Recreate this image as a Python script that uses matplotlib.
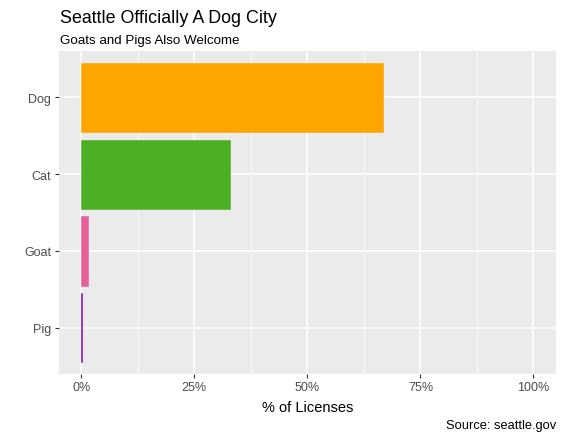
import matplotlib
matplotlib.use("Agg")
from matplotlib import pyplot as plt
from matplotlib.ticker import FuncFormatter, MultipleLocator
import numpy as np

# данные с картинки
species = ['Pig', 'Goat', 'Cat', 'Dog']
share = [0.2, 1.5, 32.9, 66.7]
colors = ['#8C00C8', '#E8609A', '#4DAF24', '#FFA500']
xticks = [0, 25, 50, 75, 100]

plt.rcParams['font.family'] = ['Liberation Sans', 'DejaVu Sans']

fig = plt.figure(figsize=(5.64, 4.39), dpi=100)
ax = fig.add_axes([0.104, 0.146, 0.882, 0.735])
ax.set_facecolor('#EBEBEB')

y = np.arange(1, len(species) + 1)
ax.barh(y, share, height=0.9, color=colors, edgecolor=colors, linewidth=0.4, zorder=3)

ax.set_xlim(-5, 105)
ax.set_ylim(0.4, 4.6)
ax.set_xticks(xticks)
ax.xaxis.set_minor_locator(MultipleLocator(12.5))
ax.xaxis.set_major_formatter(FuncFormatter(lambda v, p: f'{v:.0f}%'))
ax.set_yticks(y)
ax.set_yticklabels(species)

ax.grid(which='major', color='white', linewidth=1.1, zorder=1)
ax.grid(which='minor', axis='x', color='white', linewidth=0.55, zorder=1)
for s in ax.spines.values():
    s.set_visible(False)
ax.tick_params(axis='both', which='major', length=2.75, width=0.8, color='#333333',
               labelsize=9, labelcolor='#4D4D4D', pad=2.5)
ax.tick_params(which='minor', length=0)

ax.set_xlabel('% of Licenses', fontsize=10.5, color='black', labelpad=5)

fig.text(0.106, 0.947, 'Seattle Officially A Dog City', fontsize=12.9, color='black', va='baseline')
fig.text(0.106, 0.899, 'Goats and Pigs Also Welcome', fontsize=9.6, color='black', va='baseline')
fig.text(0.987, 0.022, 'Source: seattle.gov', fontsize=9.3, color='black', ha='right', va='baseline')

fig.savefig('out.png', dpi=100)
